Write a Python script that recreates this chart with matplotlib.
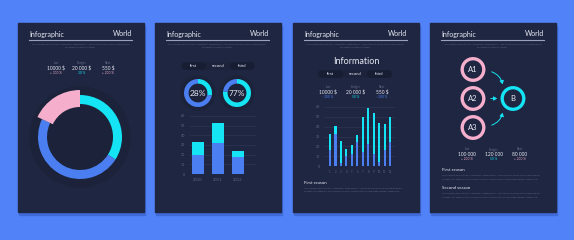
import matplotlib
matplotlib.use("Agg")
import matplotlib.pyplot as plt
from matplotlib.patches import Rectangle, Circle, FancyBboxPatch, FancyArrowPatch

plt.rcParams['font.family'] = ['Lato', 'DejaVu Sans']

# ---------------- data ----------------
header_left = "Infographic"
header_right = "World"
lorem_1 = "Lorem ipsum dolor sit amet, consectetur adipiscing elit. Nam vel accumsan mi, sed pretium nisi leo."
lorem_2 = "Pellentesque ultrices ut tortor."
lorem_3 = "Curabitur at sagittis leo, vitae fermentum ante. Integer eget arcu quis magna tempor maximus id."

stat_labels = ["Last", "Budget", "Next"]
stats1_values = ["10000 $", "20 000 $", "550 $"]
stats1_change = ["+ 300 %", "30 %", "+ 200 %"]
stats3_values = ["10000 $", "20 000 $", "550 $"]
stats3_change = ["- 200 %", "50 %", "- 200 %"]
stats4_values = ["100 000", "120 000", "80 000"]
stats4_change = ["+ 200 %", "50 %", "+ 200 %"]

donut_shares = [34, 48, 18]            # cyan, blue, pink
gauge_values = [28, 77]                # percent
tabs = ["first", "second", "third"]

years = ["2010", "2011", "2012"]
year_lower = [20, 32, 18]
year_upper = [13, 21, 6]

months = [str(i) for i in range(1, 13)]
month_lower = [16, 33, 3, 10, 12, 24, 14, 22, 12, 4, 16, 24]
month_upper = [17, 8, 22, 7, 9, 8, 36, 37, 42, 40, 27, 26]

nodes_a = ["A1", "A2", "A3"]
node_b = "B"
seasons = ["First season", "Second season"]

# ---------------- style ----------------
BG = "#5182f7"
PANEL = "#1f2641"
CYAN = "#14e4f4"
BLUE = "#4b7ff1"
PINK = "#f5afcc"
WHITE = "#e6e9f3"
GREY = "#5f6888"
GRID = "#2c3554"

W, H = 574, 240
fig = plt.figure(figsize=(W / 100, H / 100), dpi=100)
fig.patch.set_facecolor(BG)
ax = fig.add_axes([0, 0, 1, 1])
ax.set_xlim(0, W)
ax.set_ylim(H, 0)
ax.axis("off")


def px_axes(x0, y0, x1, y1):
    a = fig.add_axes([x0 / W, 1 - y1 / H, (x1 - x0) / W, (y1 - y0) / H])
    a.patch.set_alpha(0)
    return a


panel_lefts = [18, 155, 293, 430]
PW, PT, PB = 126, 23, 212

for x0 in panel_lefts:
    ax.add_patch(Rectangle((x0 + 1, PT + 3), PW, PB - PT, color="#3f6ad8", zorder=0))
    ax.add_patch(Rectangle((x0, PT), PW, PB - PT, color=PANEL, zorder=1))
    l, r = x0 + 11, x0 + PW - 12
    ax.text(l, 34, header_left, color=WHITE, fontsize=5, va="center", ha="left", zorder=3)
    ax.text(r, 34, header_right, color=WHITE, fontsize=5, va="center", ha="right", zorder=3)
    ax.plot([l, r], [40, 40], color="#9aa1bb", lw=0.8, zorder=3)
    ax.text((l + r) / 2, 44.5, lorem_1, color=GREY, fontsize=1.6, ha="center", va="center", zorder=3)
    ax.text((l + r) / 2, 47.8, lorem_2, color=GREY, fontsize=1.6, ha="center", va="center", zorder=3)


def stats(xs, y0, values, changes, change_colors):
    for x, lab, v, c, cc in zip(xs, stat_labels, values, changes, change_colors):
        ax.text(x, y0, lab, color=GREY, fontsize=2.2, ha="center", va="center", zorder=3)
        ax.text(x, y0 + 5, v, color=WHITE, fontsize=3.5, ha="center", va="center", zorder=3)
        ax.text(x, y0 + 9.6, c, color=cc, fontsize=2.3, ha="center", va="center", zorder=3)


def lorem_block(x, y):
    ax.text(x, y, lorem_1, color=GREY, fontsize=1.65, ha="left", va="center", zorder=3)
    ax.text(x, y + 3.4, lorem_3, color=GREY, fontsize=1.65, ha="left", va="center", zorder=3)


# ---------------- panel 1 ----------------
stats([56, 82, 108], 63, stats1_values, stats1_change, [PINK, CYAN, PINK])
cx, cy, R = 80, 137, 54
d = px_axes(cx - R, cy - R, cx + R, cy + R)
d.add_patch(Circle((0, 0), 50, color="#1b2239", zorder=0))
d.pie(donut_shares, colors=[CYAN, BLUE, "none"], radius=42, startangle=90, counterclock=False,
      wedgeprops=dict(width=9, linewidth=0))
d.pie(donut_shares, colors=["none", "none", PINK], radius=47, startangle=90, counterclock=False,
      wedgeprops=dict(width=17, linewidth=0))
d.set_xlim(-R, R)
d.set_ylim(-R, R)
d.set_aspect("equal")
d.axis("off")

# ---------------- panel 2 ----------------
def tab_bar(xc, yc, wide, hgt):
    step = wide / 3
    ax.add_patch(FancyBboxPatch((xc - wide / 2, yc - hgt / 2), wide, hgt,
                                boxstyle="round,pad=0,rounding_size=3", color="#1c233b", zorder=2))
    for i, t in enumerate(tabs):
        tx = xc - wide / 2 + step * (i + 0.5)
        if i != 1:
            ax.add_patch(FancyBboxPatch((tx - step / 2 + 0.5, yc - hgt / 2), step - 1, hgt,
                                        boxstyle="round,pad=0,rounding_size=3", color="#171d33", zorder=2))
        ax.text(tx, yc, t, color=WHITE, fontsize=3, ha="center", va="center", zorder=3)


tab_bar(218, 66, 72, 6)

for gx, val in zip([198, 237], gauge_values):
    R2 = 19
    g = px_axes(gx - R2, 93 - R2, gx + R2, 93 + R2)
    g.add_patch(Circle((0, 0), 17, color="#1b2239", zorder=0))
    g.pie([val, 100 - val], colors=[CYAN, BLUE], radius=14, startangle=90, counterclock=False,
          wedgeprops=dict(width=4.6, linewidth=0))
    g.text(0, 0, f"{val}%", color=WHITE, fontsize=6, ha="center", va="center", zorder=5)
    g.set_xlim(-R2, R2)
    g.set_ylim(-R2, R2)
    g.set_aspect("equal")
    g.axis("off")


def bar_axes(a, labels, lower, upper, width, xfs):
    x = list(range(len(labels)))
    a.bar(x, lower, width=width, color=BLUE, zorder=3)
    a.bar(x, upper, bottom=lower, width=width, color=CYAN, zorder=3)
    a.set_ylim(0, 60)
    a.set_yticks(range(0, 61, 10))
    a.grid(axis="y", color=GRID, lw=0.5, zorder=0)
    a.set_xticks(x)
    a.set_xticklabels(labels)
    a.tick_params(axis="y", length=0, labelsize=2.6, labelcolor=GREY, pad=3)
    a.tick_params(axis="x", length=0, labelsize=xfs, labelcolor=GREY, pad=3)
    for s in a.spines.values():
        s.set_visible(False)


b2 = px_axes(189, 116, 256, 174)
bar_axes(b2, years, year_lower, year_upper, 0.6, 3)
b2.set_xlim(-0.45, 2.9)

# ---------------- panel 3 ----------------
ax.text(356, 62, "Information", color=WHITE, fontsize=6.5, ha="center", va="center", zorder=3)
tab_bar(355, 74, 73, 6)
stats([328, 356, 382], 87, stats3_values, stats3_change, [BLUE, CYAN, BLUE])

b3 = px_axes(324, 107, 395, 166)
bar_axes(b3, months, month_lower, month_upper, 0.38, 2.0)
b3.set_xlim(-1.1, 11.9)

ax.text(304, 183, seasons[0], color=WHITE, fontsize=3.2, ha="left", va="center", zorder=3)
lorem_block(304, 188)

# ---------------- panel 4 ----------------
ay = [69.5, 98.5, 127.5]
for yy, lab in zip(ay, nodes_a):
    ax.add_patch(Circle((473, yy), 10.8, fill=False, ec=PINK, lw=2.4, zorder=3))
    ax.text(473, yy, lab, color=WHITE, fontsize=5.5, ha="center", va="center", zorder=4)
ax.add_patch(Circle((513, 98.5), 10.8, fill=False, ec=CYAN, lw=2.4, zorder=3))
ax.text(513, 98.5, node_b, color=WHITE, fontsize=5.5, ha="center", va="center", zorder=4)

arrow_kw = dict(arrowstyle="-|>,head_length=2,head_width=1.2", color=CYAN, lw=0.7, zorder=4)
ax.add_patch(FancyArrowPatch((489, 71), (503, 87), connectionstyle="arc3,rad=-0.35", **arrow_kw))
ax.add_patch(FancyArrowPatch((488, 98.5), (500, 98.5), **arrow_kw))
ax.add_patch(FancyArrowPatch((489, 126), (503, 110), connectionstyle="arc3,rad=0.35", **arrow_kw))

stats([467, 494, 520], 149.5, stats4_values, stats4_change, [PINK, CYAN, PINK])

ax.text(442, 170, seasons[0], color=WHITE, fontsize=3.2, ha="left", va="center", zorder=3)
lorem_block(442, 175.5)
ax.text(442, 188, seasons[1], color=WHITE, fontsize=3.2, ha="left", va="center", zorder=3)
lorem_block(442, 193.5)

fig.savefig("out.png", dpi=100, facecolor=BG)
